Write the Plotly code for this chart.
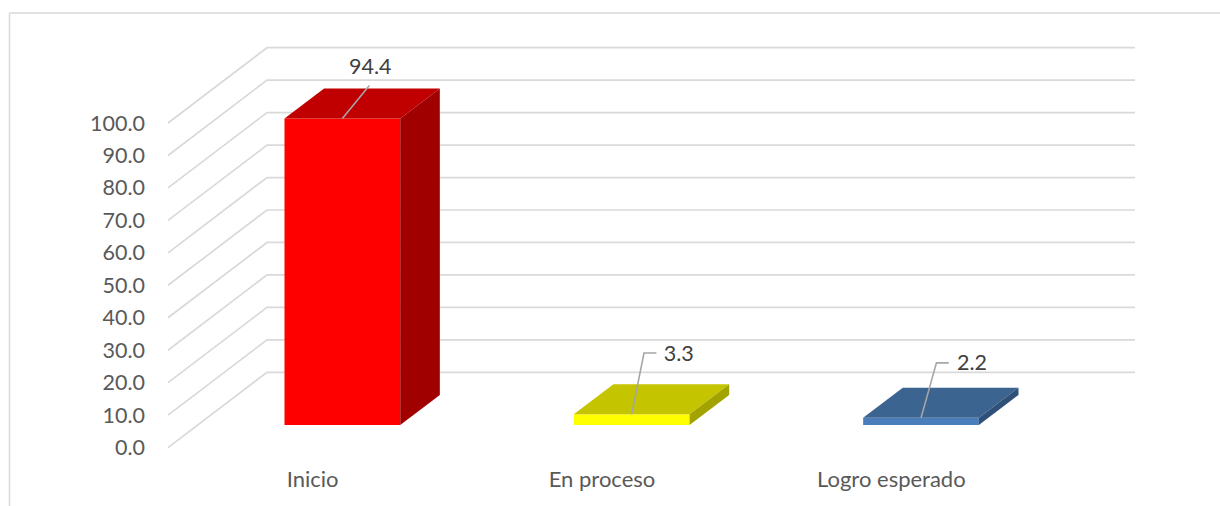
import plotly.graph_objects as go

# Data
categories = ["Inicio", "En proceso", "Logro esperado"]
values = [94.4, 3.3, 2.2]
y_ticks = [0, 10, 20, 30, 40, 50, 60, 70, 80, 90, 100]
y_tick_labels = ["0.0", "10.0", "20.0", "30.0", "40.0", "50.0", "60.0", "70.0", "80.0", "90.0", "100.0"]

# Styles
front_colors = ["#FF0000", "#FFFF00", "#4A7EBB"]
top_colors = ["#C00000", "#C4C400", "#3C6490"]
side_colors = ["#A00000", "#A3A300", "#2F5078"]
GRID = "#D9D9D9"
LEADER = "#A6A6A6"
FONT = "Lato"
SIZE = 21.5

# Layout geometry (pixels of the 1220x506 page)
W, H = 1220, 506
PL, PR, PT, PB = 160, 1145, 40, 455
X0_PX, Y0_PX = 168.0, 447.6
PX_PER_X, PX_PER_Y = 289.33, 3.246
x_range = [-0.5 + (PL - X0_PX) / PX_PER_X, -0.5 + (PR - X0_PX) / PX_PER_X]
y_range = [(Y0_PX - PB) / PX_PER_Y, (Y0_PX - PT) / PX_PER_Y]
X_RIGHT = 2.5
DX, DY = 99 / PX_PER_X, 75.3 / PX_PER_Y  # depth vector of the floor
D_FRONT, D_BACK = 0.30, 0.70
BAR_W = 0.400

# Leader line offsets from the top-centre of each bar's front face (pixels: +right, +up)
leader_px = [[(27, 33)], [(12.3, 61.3), (24.7, 61.3)], [(15.4, 55), (27.7, 55)]]
label_px = [(28, 50), (47, 59), (51, 53)]


def bar_center(i):
    return i + D_FRONT * DX


fig = go.Figure()

# Walls: floor-to-back diagonal and back-wall line for every tick
for v in y_ticks:
    fig.add_trace(go.Scatter(
        x=[-0.5, -0.5 + DX, X_RIGHT + DX], y=[v, v + DY, v + DY],
        mode="lines", line=dict(color=GRID, width=1.7), hoverinfo="skip",
        xaxis="x", yaxis="y"))

# Bars: real bar trace for the front face
fig.add_trace(go.Bar(
    x=[bar_center(i) for i in range(len(values))], y=values,
    base=[D_FRONT * DY] * len(values), width=BAR_W,
    marker=dict(color=front_colors, line=dict(width=0)),
    hovertext=categories, xaxis="x2", yaxis="y2"))

# Top and side faces derived from the same values
for i, v in enumerate(values):
    xl = bar_center(i) - BAR_W / 2
    xr = bar_center(i) + BAR_W / 2
    b = D_FRONT * DY
    t = b + v
    ox = (D_BACK - D_FRONT) * DX
    oy = (D_BACK - D_FRONT) * DY
    fig.add_trace(go.Scatter(
        x=[xl, xr, xr + ox, xl + ox, xl], y=[t, t, t + oy, t + oy, t],
        mode="lines", fill="toself", fillcolor=top_colors[i],
        line=dict(width=0, color=top_colors[i]), hoverinfo="skip",
        xaxis="x2", yaxis="y2"))
    fig.add_trace(go.Scatter(
        x=[xr, xr + ox, xr + ox, xr, xr], y=[b, b + oy, t + oy, t, b],
        mode="lines", fill="toself", fillcolor=side_colors[i],
        line=dict(width=0, color=side_colors[i]), hoverinfo="skip",
        xaxis="x2", yaxis="y2"))

# Leader lines and value labels
for i, v in enumerate(values):
    cx = bar_center(i)
    cy = D_FRONT * DY + v
    xs = [cx] + [cx + a / PX_PER_X for a, _ in leader_px[i]]
    ys = [cy] + [cy + b / PX_PER_Y for _, b in leader_px[i]]
    fig.add_trace(go.Scatter(
        x=xs, y=ys, mode="lines", line=dict(color=LEADER, width=1.6),
        hoverinfo="skip", xaxis="x2", yaxis="y2"))
    fig.add_trace(go.Scatter(
        x=[cx + label_px[i][0] / PX_PER_X], y=[cy + label_px[i][1] / PX_PER_Y],
        mode="text", text=[f"{v:.1f}"], textposition="middle center",
        textfont=dict(family=FONT, size=SIZE, color="#404040"),
        hoverinfo="skip", xaxis="x2", yaxis="y2"))

# Chart-area border (top and left edges)
fx = lambda px: (px - PL) / (PR - PL)
fy = lambda py: (PB - py) / (PB - PT)
shapes = [
    dict(type="line", xref="paper", yref="paper", x0=fx(9.5), x1=fx(W), y0=fy(13), y1=fy(13),
         line=dict(color=GRID, width=1.5)),
    dict(type="line", xref="paper", yref="paper", x0=fx(9.5), x1=fx(9.5), y0=fy(13), y1=fy(H),
         line=dict(color=GRID, width=1.5)),
]

fig.update_layout(
    width=W, height=H, autosize=False,
    margin=dict(l=PL, r=W - PR, t=PT, b=H - PB, pad=0),
    paper_bgcolor="white", plot_bgcolor="rgba(0,0,0,0)",
    showlegend=False, shapes=shapes,
    font=dict(family=FONT, size=SIZE, color="#595959"),
    xaxis=dict(range=x_range, tickmode="array", tickvals=list(range(len(categories))),
               ticktext=categories, showgrid=False, zeroline=False, showline=False,
               ticks="", ticklabelstandoff=9,
               tickfont=dict(family=FONT, size=22, color="#595959")),
    yaxis=dict(range=y_range, tickmode="array", tickvals=y_ticks, ticktext=y_tick_labels,
               showgrid=False, zeroline=False, showline=False, ticks="",
               ticklabelstandoff=14,
               tickfont=dict(family=FONT, size=SIZE, color="#595959")),
    xaxis2=dict(range=x_range, overlaying="x", visible=False),
    yaxis2=dict(range=y_range, overlaying="y", visible=False),
)

fig.write_html("out.html", config=dict(displayModeBar=False),
               post_script="document.body.style.margin='0';document.documentElement.style.overflow='hidden';")
